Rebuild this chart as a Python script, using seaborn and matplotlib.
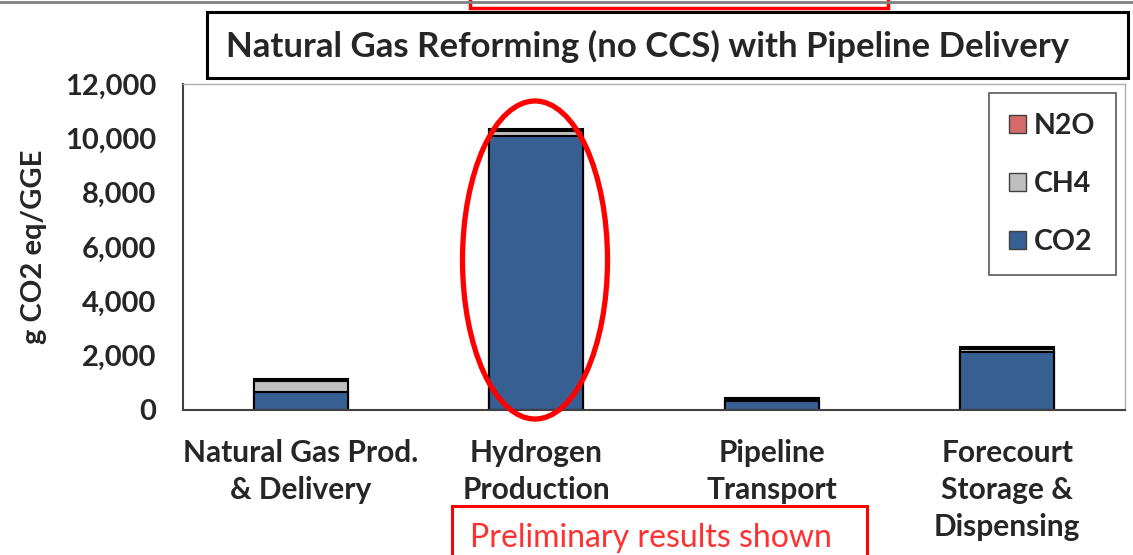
import numpy as np
import pandas as pd
import matplotlib.pyplot as plt
import seaborn as sns
from matplotlib.patches import Rectangle, Ellipse, Patch

# values (g CO2 eq / GGE)
categories = ["Natural Gas Prod.\n& Delivery", "Hydrogen\nProduction",
              "Pipeline\nTransport", "Forecourt\nStorage &\nDispensing"]
co2 = [660, 10100, 320, 2150]
ch4 = [400, 180, 90, 100]
n2o = [70, 80, 40, 70]
gases = ["N2O", "CH4", "CO2"]
colors = {"CO2": "#375F92", "CH4": "#BFBFBF", "N2O": "#D46A6A"}
yticks = [0, 2000, 4000, 6000, 8000, 10000, 12000]

df = pd.DataFrame({"cat": categories, "CO2": co2, "CH4": ch4, "N2O": n2o})
df["lvl_co2"] = df["CO2"]
df["lvl_ch4"] = df["CO2"] + df["CH4"]
df["lvl_n2o"] = df["lvl_ch4"] + df["N2O"]

sns.set_style("white")
plt.rcParams["font.family"] = ["Lato", "DejaVu Sans"]

fig = plt.figure(figsize=(11.33, 5.55), dpi=100)
ax = fig.add_axes([183 / 1133, 1 - 410 / 555, (1125 - 183) / 1133, (410 - 84) / 555])

# stacked bars: draw cumulative tops first, lower layers over them
for col, gas in [("lvl_n2o", "N2O"), ("lvl_ch4", "CH4"), ("lvl_co2", "CO2")]:
    sns.barplot(data=df, x="cat", y=col, order=categories, color=colors[gas],
                width=0.4, edgecolor="black", linewidth=1.5, errorbar=None,
                saturation=1, ax=ax)

ax.set_ylim(0, 12000)
ax.set_xlim(-0.5, 3.5)
ax.set_yticks(yticks)
ax.set_yticklabels([f"{v:,}" for v in yticks], fontsize=21, fontweight="bold")
ax.tick_params(axis="y", length=4, direction="out", pad=15, color="#404040")
ax.tick_params(axis="x", which="major", length=0, pad=21)
ax.set_xticks([0.5, 1.5, 2.5], minor=True)
ax.tick_params(axis="x", which="minor", length=7, direction="in", color="#404040")
for lbl in ax.get_xticklabels():
    lbl.set_fontsize(21.5)
    lbl.set_fontweight("bold")
    lbl.set_linespacing(1.38)
    lbl.set_verticalalignment("top")
ax.set_xlabel("")
ax.set_ylabel("g CO2 eq/GGE", fontsize=21, fontweight="bold", labelpad=13)

for side in ["top", "right"]:
    ax.spines[side].set_color("#B0B0B0")
    ax.spines[side].set_linewidth(1.0)
for side in ["left", "bottom"]:
    ax.spines[side].set_color("#404040")
    ax.spines[side].set_linewidth(1.5)

handles = [Patch(facecolor=colors[g], edgecolor="#404040", linewidth=1) for g in gases]
leg = ax.legend(handles, gases, loc="upper right", bbox_to_anchor=(0.99, 0.972),
                borderaxespad=0, prop={"weight": "bold", "size": 20.5},
                handlelength=0.6, handleheight=0.6, handletextpad=0.3,
                labelspacing=1.12, borderpad=0.7, fancybox=False, frameon=True)
leg.get_frame().set_edgecolor("#404040")
leg.get_frame().set_linewidth(1.3)

# title box
fig.patches.append(Rectangle((207 / 1133, 1 - 78 / 555), (1128 - 207) / 1133, 66 / 555,
                             transform=fig.transFigure, facecolor="white",
                             edgecolor="black", linewidth=2.2, zorder=3))
fig.text(648 / 1133, 1 - 46 / 555, "Natural Gas Reforming (no CCS) with Pipeline Delivery",
         ha="center", va="center", fontsize=25, fontweight="bold", zorder=4)

# slide remnants at the top edge
fig.add_artist(plt.Line2D([0, 1], [0.997, 0.997], transform=fig.transFigure,
                          color="#808080", linewidth=2))
fig.patches.append(Rectangle((470 / 1133, 1 - 8 / 555), 418 / 1133, 0.05,
                             transform=fig.transFigure, facecolor="white",
                             edgecolor="#FF0000", linewidth=2.5, clip_on=False))

# red highlight ellipse
fig.patches.append(Ellipse((535 / 1133, 1 - 260 / 555), 145 / 1133, 318 / 555,
                           transform=fig.transFigure, facecolor="none",
                           edgecolor="#FF0000", linewidth=3.8, zorder=5))

# preliminary note
fig.patches.append(Rectangle((452 / 1133, -0.05), 415 / 1133, 0.05 + 1 - 506 / 555,
                             transform=fig.transFigure, facecolor="white",
                             edgecolor="#FF0000", linewidth=2.2, clip_on=False))
fig.text(651 / 1133, 1 - 538 / 555, "Preliminary results shown", ha="center",
         va="center", fontsize=23, color="#FF3030")

plt.savefig("out.png", dpi=100)
